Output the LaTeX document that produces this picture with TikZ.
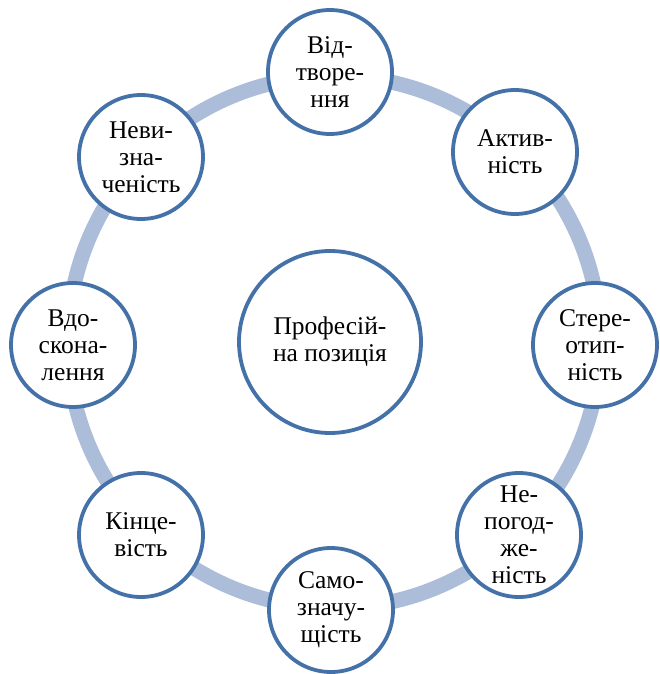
\documentclass[tikz,border=0pt]{standalone}
\usepackage{fontspec}
\setmainfont{Liberation Serif}
\definecolor{ringblue}{RGB}{172,189,218}
\definecolor{edgeblue}{RGB}{68,114,168}
\tikzset{
  ringline/.style={draw=ringblue, line width=15pt},
  item/.style={circle, draw=edgeblue, line width=3.8pt, fill=white,
    minimum size=124pt, inner sep=0pt, align=center,
    font=\fontsize{25.5}{27}\selectfont},
  hub/.style={item, minimum size=182pt}
}
\begin{document}
\begin{tikzpicture}[x=1pt,y=-1pt]
  \useasboundingbox (0,0) rectangle (660,674);
  % ring behind all circles
  \coordinate (ctr) at (334,342);
  \draw[ringline] (ctr) circle[radius=266pt];
  % central circle
  \node[hub] (pos) at (330,342) {Професій-\\на позиція};
  % surrounding circles, clockwise from top
  \node[item] (n1) at (330,72)  {Від-\\творе-\\ння};
  \node[item] (n2) at (515,152) {Актив-\\ність};
  \node[item] (n3) at (595,345) {Стере-\\отип-\\ність};
  \node[item] (n4) at (519,535) {Не-\\погод-\\же-\\ність};
  \node[item] (n5) at (331,610) {Само-\\значу-\\щість};
  \node[item] (n6) at (141,535) {Кінце-\\вість};
  \node[item] (n7) at (73,345)  {Вдо-\\скона-\\лення};
  \node[item] (n8) at (141,157) {Неви-\\зна-\\ченість};
\end{tikzpicture}
\end{document}
